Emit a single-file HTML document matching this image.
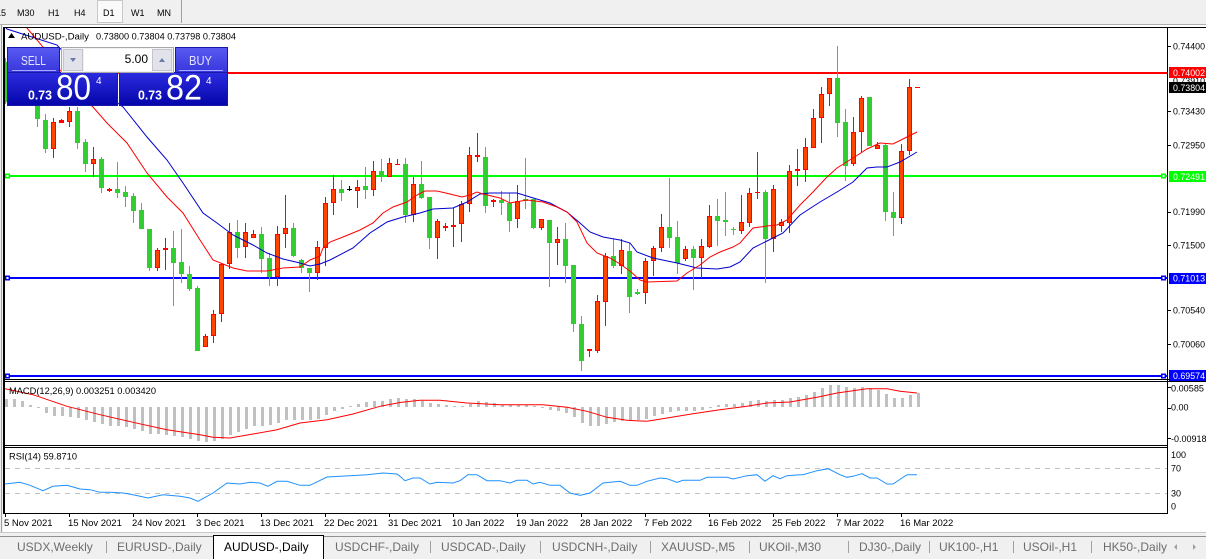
<!DOCTYPE html>
<html><head><meta charset="utf-8">
<style>
html,body{margin:0;padding:0;background:#fff;}
svg{display:block;}
text{font-family:"Liberation Sans",Arial,sans-serif;}
</style></head><body>
<svg width="1206" height="559" viewBox="0 0 1206 559" xmlns="http://www.w3.org/2000/svg">
<defs>
<clipPath id="cm"><rect x="5" y="28" width="1162" height="351"/></clipPath>
<clipPath id="cd"><rect x="5" y="382" width="1162" height="63"/></clipPath>
<clipPath id="cr"><rect x="5" y="448" width="1162" height="65"/></clipPath>
<linearGradient id="gt" x1="0" y1="0" x2="0" y2="1"><stop offset="0" stop-color="#5a5af2"/><stop offset="1" stop-color="#3636dc"/></linearGradient>
<linearGradient id="gb" x1="0" y1="0" x2="0" y2="1"><stop offset="0" stop-color="#2c2ce0"/><stop offset="1" stop-color="#0505aa"/></linearGradient>
</defs>
<rect width="1206" height="559" fill="#fff"/>

<!-- toolbar -->
<rect x="0" y="0" width="1206" height="24" fill="#f0f0f0"/>
<rect x="97.5" y="0.5" width="25" height="22" fill="#fafafa" stroke="#c8c8c8"/>
<rect x="181" y="0" width="1" height="23" fill="#a0a0a0"/>
<rect x="0" y="24" width="1206" height="1" fill="#b0b0b0"/>
<g font-size="9" fill="#000">
<text x="6" y="16" text-anchor="end">M15</text>
<text x="17" y="16">M30</text>
<text x="48" y="16">H1</text>
<text x="74" y="16">H4</text>
<text x="103" y="16">D1</text>
<text x="131" y="16">W1</text>
<text x="157" y="16">MN</text>
</g>

<!-- frame -->
<rect x="0" y="25" width="3" height="508" fill="#f0f0f0"/>
<rect x="1" y="25" width="1" height="508" fill="#a0a0a0"/>
<rect x="3" y="27" width="2" height="487" fill="#000"/>
<rect x="3" y="27" width="1203" height="1" fill="#000"/>
<rect x="3" y="379" width="1203" height="1" fill="#000"/>
<rect x="3" y="381" width="1203" height="1" fill="#000"/>
<rect x="3" y="445" width="1165" height="1" fill="#000"/>
<rect x="3" y="447" width="1165" height="1" fill="#000"/>
<rect x="3" y="513" width="1165" height="1" fill="#000"/>
<rect x="1167" y="27" width="1" height="487" fill="#000"/>

<!-- main chart -->
<g clip-path="url(#cm)">
<g shape-rendering="crispEdges">
<rect x="5" y="72" width="1162" height="2" fill="#ff0000"/>
<rect x="5" y="175" width="1162" height="2" fill="#00ff00"/>
<rect x="5" y="277" width="1162" height="2" fill="#0000ff"/>
<rect x="5" y="375" width="1162" height="2" fill="#0000ff"/>
</g>
<rect x="5.75" y="174.25" width="3.5" height="3.5" fill="#fff" stroke="#00ff00" stroke-width="1.5"/>
<rect x="1161.75" y="174.25" width="3.5" height="3.5" fill="#fff" stroke="#00ff00" stroke-width="1.5"/>
<rect x="5.75" y="276.25" width="3.5" height="3.5" fill="#fff" stroke="#0000ff" stroke-width="1.5"/>
<rect x="1161.75" y="276.25" width="3.5" height="3.5" fill="#fff" stroke="#0000ff" stroke-width="1.5"/>
<rect x="5.75" y="374.25" width="3.5" height="3.5" fill="#fff" stroke="#0000ff" stroke-width="1.5"/>
<rect x="1161.75" y="374.25" width="3.5" height="3.5" fill="#fff" stroke="#0000ff" stroke-width="1.5"/>

<g shape-rendering="crispEdges">
<path fill="#32cd32" d="M5 58h1v46h-1zM3 62h5v40h-5zM21 65h1v35h-1zM19 70h5v25h-5zM37 88h1v39h-1zM35 95h5v24h-5zM45 114h1v39h-1zM43 120h5v29h-5zM77 107h1v42h-1zM75 111h5v32h-5zM85 139h1v33h-1zM83 142h5v22h-5zM101 157h1v36h-1zM99 159h5v29h-5zM117 162h1v36h-1zM115 189h5v4h-5zM125 186h1v21h-1zM123 192h5v5h-5zM133 193h1v30h-1zM131 196h5v15h-5zM141 203h1v26h-1zM139 210h5v19h-5zM149 229h1v42h-1zM147 229h5v39h-5zM173 231h1v75h-1zM171 248h5v15h-5zM181 229h1v54h-1zM179 262h5v12h-5zM189 266h1v25h-1zM187 274h5v15h-5zM197 286h1v65h-1zM195 288h5v63h-5zM237 220h1v38h-1zM235 232h5v16h-5zM261 227h1v46h-1zM259 234h5v25h-5zM269 253h1v33h-1zM267 258h5v19h-5zM293 223h1v34h-1zM291 228h5v28h-5zM301 259h1v14h-1zM299 260h5v8h-5zM309 268h1v24h-1zM307 268h5v5h-5zM341 180h1v21h-1zM339 189h5v4h-5zM365 167h1v32h-1zM363 186h5v4h-5zM381 159h1v23h-1zM379 171h5v6h-5zM405 158h1v65h-1zM403 164h5v51h-5zM421 161h1v38h-1zM419 184h5v14h-5zM429 197h1v52h-1zM427 197h5v41h-5zM485 147h1v66h-1zM483 157h5v49h-5zM501 191h1v24h-1zM499 200h5v3h-5zM509 193h1v39h-1zM507 203h5v18h-5zM525 158h1v51h-1zM523 199h5v2h-5zM533 199h1v30h-1zM531 199h5v29h-5zM549 220h1v67h-1zM547 220h5v23h-5zM565 223h1v60h-1zM563 239h5v27h-5zM573 265h1v67h-1zM571 265h5v59h-5zM581 316h1v55h-1zM579 324h5v37h-5zM613 239h1v29h-1zM611 256h5v10h-5zM629 243h1v70h-1zM627 251h5v46h-5zM637 289h1v6h-1zM635 292h5v2h-5zM669 178h1v70h-1zM667 227h5v11h-5zM677 221h1v53h-1zM675 237h5v26h-5zM693 246h1v44h-1zM691 249h5v9h-5zM717 199h1v47h-1zM715 216h5v5h-5zM725 192h1v44h-1zM723 220h5v2h-5zM733 227h1v8h-1zM731 229h5v1h-5zM765 190h1v93h-1zM763 192h5v47h-5zM837 46h1v91h-1zM835 78h5v45h-5zM845 109h1v72h-1zM843 122h5v44h-5zM869 97h1v49h-1zM867 97h5v49h-5zM885 143h1v78h-1zM883 145h5v67h-5zM893 192h1v44h-1zM891 212h5v6h-5z"/>
<path fill="#ff0000" d="M13 55h1v35h-1zM11 60h5v20h-5zM29 70h1v30h-1zM27 75h5v20h-5zM53 118h1v40h-1zM51 122h5v27h-5zM61 119h1v4h-1zM59 120h5v3h-5zM69 107h1v20h-1zM67 111h5v11h-5zM93 147h1v30h-1zM91 159h5v5h-5zM109 188h1v4h-1zM107 189h5v2h-5zM157 248h1v23h-1zM155 250h5v18h-5zM165 238h1v32h-1zM163 248h5v2h-5zM205 334h1v13h-1zM203 336h5v11h-5zM213 310h1v33h-1zM211 314h5v22h-5zM221 263h1v59h-1zM219 264h5v50h-5zM229 223h1v46h-1zM227 232h5v32h-5zM245 223h1v35h-1zM243 232h5v15h-5zM253 230h1v8h-1zM251 234h5v4h-5zM277 226h1v60h-1zM275 234h5v43h-5zM285 195h1v53h-1zM283 228h5v6h-5zM317 241h1v39h-1zM315 247h5v26h-5zM325 197h1v69h-1zM323 203h5v45h-5zM333 175h1v40h-1zM331 189h5v14h-5zM357 180h1v28h-1zM355 187h5v4h-5zM373 161h1v35h-1zM371 171h5v19h-5zM389 158h1v19h-1zM387 163h5v14h-5zM397 159h1v6h-1zM395 164h5v1h-5zM413 177h1v45h-1zM411 184h5v31h-5zM437 219h1v40h-1zM435 221h5v17h-5zM445 223h1v8h-1zM443 226h5v2h-5zM453 208h1v39h-1zM451 225h5v2h-5zM461 201h1v41h-1zM459 204h5v20h-5zM469 147h1v65h-1zM467 155h5v49h-5zM477 133h1v29h-1zM475 155h5v2h-5zM493 199h1v8h-1zM491 200h5v2h-5zM517 185h1v43h-1zM515 201h5v18h-5zM541 219h1v11h-1zM539 219h5v9h-5zM557 227h1v38h-1zM555 239h5v4h-5zM589 349h1v8h-1zM587 349h5v2h-5zM597 295h1v58h-1zM595 301h5v50h-5zM605 253h1v73h-1zM603 256h5v46h-5zM621 239h1v35h-1zM619 250h5v16h-5zM645 258h1v46h-1zM643 261h5v32h-5zM653 246h1v30h-1zM651 248h5v13h-5zM661 214h1v38h-1zM659 227h5v21h-5zM685 246h1v15h-1zM683 249h5v10h-5zM701 239h1v39h-1zM699 246h5v12h-5zM709 205h1v43h-1zM707 216h5v31h-5zM741 195h1v39h-1zM739 222h5v9h-5zM749 188h1v39h-1zM747 193h5v30h-5zM757 152h1v47h-1zM755 192h5v1h-5zM773 185h1v67h-1zM771 189h5v50h-5zM781 219h1v13h-1zM779 222h5v4h-5zM789 165h1v68h-1zM787 171h5v52h-5zM797 149h1v37h-1zM795 169h5v2h-5zM805 138h1v44h-1zM803 147h5v23h-5zM813 109h1v39h-1zM811 118h5v30h-5zM821 87h1v56h-1zM819 94h5v24h-5zM829 78h1v28h-1zM827 78h5v16h-5zM853 117h1v49h-1zM851 132h5v32h-5zM861 96h1v56h-1zM859 98h5v34h-5zM877 142h1v7h-1zM875 145h5v4h-5zM901 144h1v80h-1zM899 151h5v67h-5zM909 79h1v76h-1zM907 87h5v64h-5zM915 87h5v1h-5z"/>
<path fill="#ff4500" d="M12 61h3v18h-3zM28 76h3v18h-3zM52 123h3v25h-3zM68 112h3v9h-3zM92 160h3v3h-3zM156 251h3v16h-3zM204 337h3v9h-3zM212 315h3v20h-3zM220 265h3v48h-3zM228 233h3v30h-3zM244 233h3v13h-3zM252 235h3v2h-3zM276 235h3v41h-3zM284 229h3v4h-3zM316 248h3v24h-3zM324 204h3v43h-3zM332 190h3v12h-3zM356 188h3v2h-3zM372 172h3v17h-3zM388 164h3v12h-3zM412 185h3v29h-3zM436 222h3v15h-3zM460 205h3v18h-3zM468 156h3v47h-3zM516 202h3v16h-3zM540 220h3v7h-3zM556 240h3v2h-3zM596 302h3v48h-3zM604 257h3v44h-3zM620 251h3v14h-3zM644 262h3v30h-3zM652 249h3v11h-3zM660 228h3v19h-3zM684 250h3v8h-3zM700 247h3v10h-3zM708 217h3v29h-3zM740 223h3v7h-3zM748 194h3v28h-3zM772 190h3v48h-3zM780 223h3v2h-3zM788 172h3v50h-3zM804 148h3v21h-3zM812 119h3v28h-3zM820 95h3v22h-3zM828 79h3v14h-3zM852 133h3v30h-3zM860 99h3v32h-3zM876 146h3v2h-3zM900 152h3v65h-3zM908 88h3v62h-3z"/>
<path fill="#000" d="M349 186h1v5h-1zM347 189h5v1h-5z"/>
</g>

<polyline fill="none" stroke="#0000cd" stroke-width="1" points="0,22 7,29 57,45 80,70 100,90 123,107 147,137 167,160 183,183 203,213 217,223 233,235 253,245 267,253 283,259 300,263 310,266 320,264 330,260 353,248 370,233 387,222 403,217 420,213 433,209 453,208 467,202 480,194 490,193 517,193 530,197 550,203 567,212 580,223 590,232 603,237 620,240 630,243 637,252 653,258 677,263 697,268 717,269 730,267 740,262 753,248 767,241 783,233 800,215 820,202 837,192 853,182 867,168 877,167 887,167 900,162 917,152"/>
<polyline fill="none" stroke="#ff0000" stroke-width="1" points="20,20 27,28 43,47 60,70 80,95 93,107 107,123 127,143 147,173 167,197 183,213 200,240 213,260 233,268 247,271 267,271 283,268 300,267 310,260 320,256 323,248 330,242 343,237 360,230 373,223 383,213 393,207 407,202 417,195 425,191 437,191 450,194 462,197 470,195 477,192 483,194 500,198 510,203 527,200 543,202 557,207 567,212 577,222 587,243 597,253 610,258 620,264 630,271 640,280 647,282 677,281 687,273 700,265 710,257 720,252 733,247 740,243 753,228 767,226 777,225 787,220 800,205 813,192 827,177 837,168 853,158 867,149 880,143 893,144 907,137 917,132"/>
</g>

<!-- header -->
<polygon points="8,38 15,38 11.5,33" fill="#000"/>
<text x="21" y="39.5" font-size="9" textLength="68" lengthAdjust="spacingAndGlyphs">AUDUSD-,Daily</text>
<text x="96" y="39.5" font-size="9" textLength="140" lengthAdjust="spacingAndGlyphs">0.73800 0.73804 0.73798 0.73804</text>

<!-- trade panel -->
<rect x="7.5" y="47.5" width="52" height="25" fill="url(#gt)" stroke="#1818a8"/>
<rect x="7.5" y="72.5" width="110" height="33" fill="url(#gb)" stroke="#1818a8"/>
<rect x="12" y="70" width="44" height="1" fill="#a8a8ff"/>
<rect x="175.5" y="47.5" width="52" height="25" fill="url(#gt)" stroke="#1818a8"/>
<rect x="119.5" y="72.5" width="108" height="33" fill="url(#gb)" stroke="#1818a8"/>
<rect x="179" y="70" width="44" height="1" fill="#a8a8ff"/>
<text x="21" y="65" font-size="13" fill="#e4e4ff" textLength="25" lengthAdjust="spacingAndGlyphs">SELL</text>
<text x="189" y="65" font-size="13" fill="#e4e4ff" textLength="23" lengthAdjust="spacingAndGlyphs">BUY</text>
<rect x="61.5" y="47.5" width="112" height="25" fill="#f2f2f2" stroke="#a8a8a8"/>
<rect x="84" y="49" width="68" height="22" fill="#fff"/>
<rect x="63.5" y="49.5" width="19" height="21" fill="#e2e2ea" stroke="#c4c4cc"/>
<rect x="152.5" y="49.5" width="19" height="21" fill="#e2e2ea" stroke="#c4c4cc"/>
<polygon points="70,58 76,58 73,62" fill="#6a7aa8"/>
<polygon points="159,62 165,62 162,58" fill="#6a7aa8"/>
<text x="148" y="63" font-size="12" text-anchor="end" fill="#000">5.00</text>
<text x="28" y="99.5" font-size="13" font-weight="bold" fill="#fff" textLength="24" lengthAdjust="spacingAndGlyphs">0.73</text>
<text x="56" y="99.5" font-size="35" fill="#fff" textLength="35" lengthAdjust="spacingAndGlyphs">80</text>
<text x="96" y="84" font-size="10" fill="#fff">4</text>
<text x="138" y="99.5" font-size="13" font-weight="bold" fill="#fff" textLength="24" lengthAdjust="spacingAndGlyphs">0.73</text>
<text x="166" y="99.5" font-size="35" fill="#fff" textLength="36" lengthAdjust="spacingAndGlyphs">82</text>
<text x="206" y="84" font-size="10" fill="#fff">4</text>

<!-- right price axis -->
<g fill="#000" shape-rendering="crispEdges">
<rect x="1167" y="46" width="4" height="1"/>
<rect x="1167" y="111" width="4" height="1"/>
<rect x="1167" y="145" width="4" height="1"/>
<rect x="1167" y="212" width="4" height="1"/>
<rect x="1167" y="245" width="4" height="1"/>
<rect x="1167" y="310" width="4" height="1"/>
<rect x="1167" y="344" width="4" height="1"/>
<rect x="1167" y="387" width="4" height="1"/>
<rect x="1167" y="408" width="4" height="1"/>
<rect x="1167" y="438" width="4" height="1"/>
</g>
<g font-size="9" fill="#000">
<text x="1173" y="49.3" textLength="32" lengthAdjust="spacingAndGlyphs">0.74400</text>
<text x="1173" y="84" textLength="32" lengthAdjust="spacingAndGlyphs">0.73910</text>
<text x="1173" y="114.3" textLength="32" lengthAdjust="spacingAndGlyphs">0.73430</text>
<text x="1173" y="148.5" textLength="32" lengthAdjust="spacingAndGlyphs">0.72950</text>
<text x="1173" y="215" textLength="32" lengthAdjust="spacingAndGlyphs">0.71990</text>
<text x="1173" y="248.3" textLength="32" lengthAdjust="spacingAndGlyphs">0.71500</text>
<text x="1173" y="313.3" textLength="32" lengthAdjust="spacingAndGlyphs">0.70540</text>
<text x="1173" y="347.3" textLength="32" lengthAdjust="spacingAndGlyphs">0.70060</text>
</g>
<rect x="1169" y="67" width="37" height="11" fill="#ff0000"/>
<text x="1173" y="76" font-size="9" fill="#fff" textLength="32" lengthAdjust="spacingAndGlyphs">0.74002</text>
<rect x="1169" y="82" width="37" height="11" fill="#000"/>
<text x="1173" y="91" font-size="9" fill="#fff" textLength="32" lengthAdjust="spacingAndGlyphs">0.73804</text>
<rect x="1169" y="171" width="37" height="11" fill="#00ff00"/>
<text x="1173" y="180" font-size="9" fill="#fff" textLength="32" lengthAdjust="spacingAndGlyphs">0.72491</text>
<rect x="1169" y="273" width="37" height="11" fill="#0000ff"/>
<text x="1173" y="281.7" font-size="9" fill="#fff" textLength="32" lengthAdjust="spacingAndGlyphs">0.71013</text>
<rect x="1169" y="370" width="37" height="11" fill="#0000ff"/>
<text x="1173" y="379" font-size="9" fill="#fff" textLength="32" lengthAdjust="spacingAndGlyphs">0.69574</text>

<!-- MACD -->
<g clip-path="url(#cd)">
<path fill="#c0c0c0" shape-rendering="crispEdges" d="M5 399h3v8h-3zM13 399h3v8h-3zM21 401h3v6h-3zM29 405h3v2h-3zM37 407h3v1h-3zM45 407h3v6h-3zM53 407h3v9h-3zM61 407h3v9h-3zM69 407h3v10h-3zM77 407h3v11h-3zM85 407h3v13h-3zM93 407h3v15h-3zM101 407h3v17h-3zM109 407h3v19h-3zM117 407h3v19h-3zM125 407h3v20h-3zM133 407h3v22h-3zM141 407h3v24h-3zM149 407h3v27h-3zM157 407h3v27h-3zM165 407h3v28h-3zM173 407h3v29h-3zM181 407h3v30h-3zM189 407h3v32h-3zM197 407h3v34h-3zM205 407h3v35h-3zM213 407h3v34h-3zM221 407h3v32h-3zM229 407h3v28h-3zM237 407h3v25h-3zM245 407h3v22h-3zM253 407h3v19h-3zM261 407h3v19h-3zM269 407h3v18h-3zM277 407h3v16h-3zM285 407h3v13h-3zM293 407h3v13h-3zM301 407h3v13h-3zM309 407h3v13h-3zM317 407h3v12h-3zM325 407h3v8h-3zM333 407h3v4h-3zM341 407h3v2h-3zM349 406h3v1h-3zM357 404h3v3h-3zM365 402h3v5h-3zM373 401h3v6h-3zM381 401h3v6h-3zM389 399h3v8h-3zM397 398h3v9h-3zM405 399h3v8h-3zM413 399h3v8h-3zM421 401h3v6h-3zM429 403h3v4h-3zM437 404h3v3h-3zM445 405h3v2h-3zM453 406h3v1h-3zM461 406h3v1h-3zM469 404h3v3h-3zM477 401h3v6h-3zM485 402h3v5h-3zM493 403h3v4h-3zM501 405h3v2h-3zM509 405h3v2h-3zM517 405h3v2h-3zM525 405h3v2h-3zM533 406h3v1h-3zM541 407h3v1h-3zM549 407h3v3h-3zM557 407h3v4h-3zM565 407h3v6h-3zM573 407h3v10h-3zM581 407h3v16h-3zM589 407h3v19h-3zM597 407h3v19h-3zM605 407h3v17h-3zM613 407h3v15h-3zM621 407h3v14h-3zM629 407h3v14h-3zM637 407h3v13h-3zM645 407h3v12h-3zM653 407h3v9h-3zM661 407h3v7h-3zM669 407h3v5h-3zM677 407h3v4h-3zM685 407h3v4h-3zM693 407h3v4h-3zM701 407h3v3h-3zM709 407h3v1h-3zM717 405h3v2h-3zM725 404h3v3h-3zM733 404h3v3h-3zM741 403h3v4h-3zM749 401h3v6h-3zM757 400h3v7h-3zM765 401h3v6h-3zM773 400h3v7h-3zM781 400h3v7h-3zM789 398h3v9h-3zM797 397h3v10h-3zM805 395h3v12h-3zM813 392h3v15h-3zM821 388h3v19h-3zM829 385h3v22h-3zM837 385h3v22h-3zM845 387h3v20h-3zM853 388h3v19h-3zM861 387h3v20h-3zM869 388h3v19h-3zM877 390h3v17h-3zM885 394h3v13h-3zM893 398h3v9h-3zM901 398h3v9h-3zM909 395h3v12h-3zM917 393h3v14h-3z"/>
<polyline fill="none" stroke="#ff0000" stroke-width="1" points="5,388.7 33,394.7 67,406.3 100,414.7 133,422.3 167,429.7 200,434.7 213,437.3 230,438 253,434 277,429.7 300,423 327,419.7 353,414 380,406.3 400,402.5 420,400.3 440,400.3 467,403 500,404.7 543,404.7 567,407.3 587,411.3 607,417.3 627,420.3 647,421.3 667,418 693,413.7 720,409.7 747,406.3 767,403 790,402 817,397.3 837,393 867,388.7 887,388.7 900,391.3 917,393"/>
</g>
<text x="9" y="394" font-size="9" textLength="147" lengthAdjust="spacingAndGlyphs">MACD(12,26,9) 0.003251 0.003420</text>
<g font-size="9" fill="#000">
<text x="1171" y="391.5" textLength="33" lengthAdjust="spacingAndGlyphs">0.00585</text>
<text x="1171" y="410.5">0.00</text>
<text x="1171" y="442">-0.00918</text>
</g>

<!-- RSI -->
<g clip-path="url(#cr)">
<line x1="5" y1="468.5" x2="1167" y2="468.5" stroke="#c0c0c0" stroke-dasharray="5,5"/>
<line x1="5" y1="493.5" x2="1167" y2="493.5" stroke="#c0c0c0" stroke-dasharray="5,5"/>
<polyline fill="none" stroke="#1e90ff" stroke-width="1" points="5,484 20,482.3 30,485.3 43,490.7 53,486.3 67,485.3 80,489 90,489.7 100,492.3 110,492.3 123,493 133,494.7 148,498 163,494.7 180,496.3 190,498 198,501.3 213,493 227,483 240,484 250,482.3 260,483 268,486.3 277,481.3 287,481.3 300,485.3 310,485.3 327,477 350,475.7 367,474.7 383,473 397,474 400,476.3 405,480.7 413,478 420,478 430,484 437,482.3 453,483 460,480.7 468,474.7 477,474.7 487,480.7 500,480.7 510,483 517,480.3 527,480.3 533,484 540,482.3 550,485.3 560,485.3 570,493 580,495.3 590,493 603,483 620,481.3 630,485.3 637,485.3 647,481.3 660,478 667,478.7 677,482.3 683,480.3 700,480.3 707,477.3 727,477.3 733,479 747,475.7 757,474.7 765,481.3 773,475.7 780,478.7 787,475.7 800,474.7 803,474.7 817,470.7 828,468.7 840,474.7 847,477.3 853,476.3 862,473.7 870,478 877,478 887,484 893,484 907,474.7 917,474.7"/>
</g>
<text x="9" y="459.5" font-size="9" textLength="68" lengthAdjust="spacingAndGlyphs">RSI(14) 59.8710</text>
<g font-size="9" fill="#000">
<text x="1171" y="458">100</text>
<text x="1171" y="471.3">70</text>
<text x="1171" y="496.3">30</text>
<text x="1171" y="509.3">0</text>
</g>

<!-- date axis -->
<g fill="#000" shape-rendering="crispEdges">
<rect x="5" y="514" width="1" height="3"/><rect x="69" y="514" width="1" height="3"/><rect x="133" y="514" width="1" height="3"/><rect x="197" y="514" width="1" height="3"/><rect x="261" y="514" width="1" height="3"/><rect x="325" y="514" width="1" height="3"/><rect x="389" y="514" width="1" height="3"/><rect x="453" y="514" width="1" height="3"/><rect x="517" y="514" width="1" height="3"/><rect x="581" y="514" width="1" height="3"/><rect x="645" y="514" width="1" height="3"/><rect x="709" y="514" width="1" height="3"/><rect x="773" y="514" width="1" height="3"/><rect x="837" y="514" width="1" height="3"/><rect x="901" y="514" width="1" height="3"/>
</g>
<g font-size="9.5" fill="#000">
<text x="4" y="526">5 Nov 2021</text>
<text x="68" y="526">15 Nov 2021</text>
<text x="132" y="526">24 Nov 2021</text>
<text x="196" y="526">3 Dec 2021</text>
<text x="260" y="526">13 Dec 2021</text>
<text x="324" y="526">22 Dec 2021</text>
<text x="388" y="526">31 Dec 2021</text>
<text x="452" y="526">10 Jan 2022</text>
<text x="516" y="526">19 Jan 2022</text>
<text x="580" y="526">28 Jan 2022</text>
<text x="644" y="526">7 Feb 2022</text>
<text x="708" y="526">16 Feb 2022</text>
<text x="772" y="526">25 Feb 2022</text>
<text x="836" y="526">7 Mar 2022</text>
<text x="900" y="526">16 Mar 2022</text>
</g>

<!-- tabs -->
<rect x="0" y="532" width="1206" height="1" fill="#c8c8c8"/>
<rect x="0" y="533" width="1206" height="26" fill="#f0f0f0"/>
<rect x="0" y="536" width="1206" height="1" fill="#909090"/>
<rect x="213" y="535" width="110" height="24" fill="#fff"/>
<rect x="213" y="535" width="110" height="1" fill="#000"/>
<rect x="213" y="535" width="1" height="24" fill="#000"/>
<rect x="323" y="535" width="1" height="24" fill="#000"/>
<g fill="#a0a0a0">
<rect x="106" y="541" width="1" height="12"/>
<rect x="430" y="541" width="1" height="12"/>
<rect x="540" y="541" width="1" height="12"/>
<rect x="650" y="541" width="1" height="12"/>
<rect x="749" y="541" width="1" height="12"/>
<rect x="848" y="541" width="1" height="12"/>
<rect x="929" y="541" width="1" height="12"/>
<rect x="1013" y="541" width="1" height="12"/>
<rect x="1091" y="541" width="1" height="12"/>
</g>
<g font-size="12" fill="#6d6d6d">
<text x="17" y="551">USDX,Weekly</text>
<text x="117" y="551">EURUSD-,Daily</text>
<text x="224" y="551" fill="#000">AUDUSD-,Daily</text>
<text x="335" y="551">USDCHF-,Daily</text>
<text x="441" y="551">USDCAD-,Daily</text>
<text x="552" y="551">USDCNH-,Daily</text>
<text x="661" y="551">XAUUSD-,M5</text>
<text x="759" y="551">UKOil-,M30</text>
<text x="859" y="551">DJ30-,Daily</text>
<text x="939" y="551">UK100-,H1</text>
<text x="1023" y="551">USOil-,H1</text>
<text x="1103" y="551">HK50-,Daily</text>
</g>
<polygon points="1177,544 1177,550 1174,547" fill="#a0a0a0"/>
<polygon points="1193,544 1193,550 1196,547" fill="#a0a0a0"/>
</svg>
</body></html>
